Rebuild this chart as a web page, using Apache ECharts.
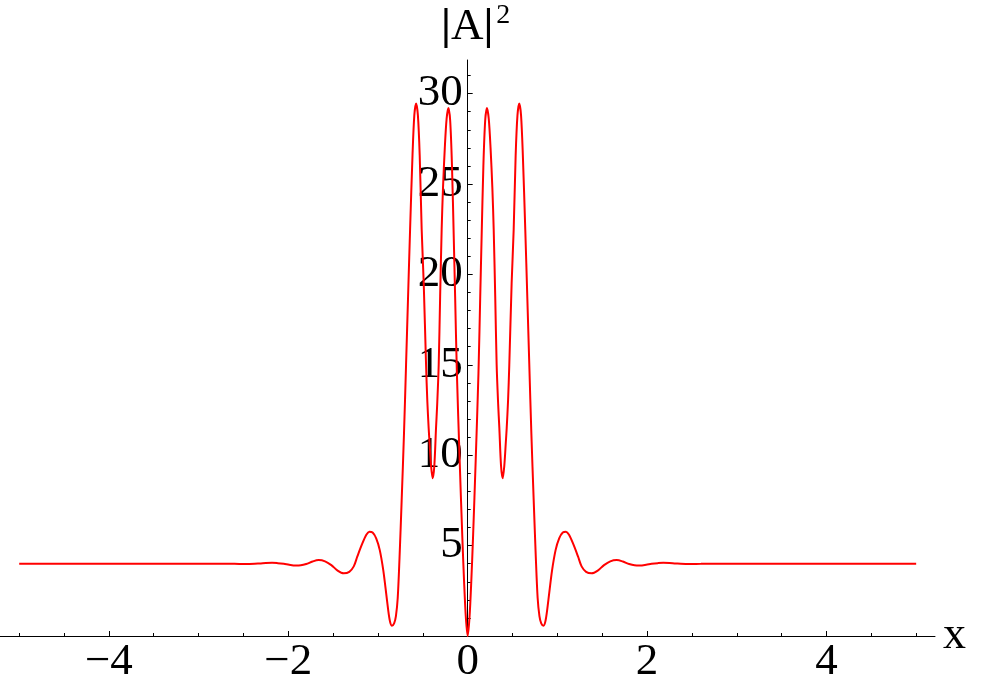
<!DOCTYPE html>
<html><head><meta charset="utf-8">
<script src="https://cdn.jsdelivr.net/npm/echarts@6/dist/echarts.min.js"></script>
<style>html,body{margin:0;padding:0;background:#fff}#c{width:1000px;height:692px}</style>
</head><body><div id="c"></div>
<script>
// curve samples (x, |A|^2)
const xValues = [
 -5.0,-4.5,-4.0,-3.6,-3.2,-2.8,-2.6,-2.45,-2.32,-2.25,-2.181,-2.12,-2.05,-1.99,-1.921,-1.86,-1.80,-1.73,-1.661,-1.59,-1.52,-1.45,-1.382,-1.32,-1.27,-1.23,-1.18,-1.13,-1.096,-1.06,-1.02,-0.98,-0.94,-0.90,-0.87,-0.845,-0.82,-0.80,-0.78,-0.76,-0.736,-0.71,-0.687,-0.665,-0.642,-0.615,-0.595,-0.575,-0.555,-0.535,-0.513,-0.49,-0.464,-0.45,-0.435,-0.425,-0.408,-0.39,-0.372,-0.353,-0.34,-0.323,-0.307,-0.29,-0.275,-0.255,-0.235,-0.215,-0.195,-0.175,-0.155,-0.14,-0.12,-0.09,-0.06,-0.04,-0.02,
 0,
 0.02,0.04,0.06,0.09,0.12,0.14,0.155,0.175,0.195,0.215,0.235,0.255,0.275,0.29,0.307,0.323,0.34,0.353,0.372,0.39,0.408,0.425,0.435,0.45,0.464,0.49,0.513,0.535,0.555,0.575,0.595,0.615,0.642,0.665,0.687,0.71,0.736,0.76,0.78,0.80,0.82,0.845,0.87,0.90,0.94,0.98,1.02,1.06,1.096,1.13,1.18,1.23,1.27,1.32,1.382,1.45,1.52,1.59,1.661,1.73,1.80,1.86,1.921,1.99,2.05,2.12,2.181,2.25,2.32,2.45,2.6,2.8,3.2,3.6,4.0,4.5,5.0
];
const yValues = [
 4.0,4.0,4.0,4.0,4.0,4.0,3.99,3.98,4.01,4.04,4.05,4.03,3.99,3.94,3.9,3.91,3.98,4.12,4.2,4.13,3.92,3.62,3.47,3.55,3.85,4.4,5.05,5.6,5.77,5.72,5.4,4.75,3.6,2.0,0.9,0.57,0.7,1.1,2.1,4.3,7.5,11.2,15.0,18.7,22.5,26.6,28.8,29.46,28.8,26.6,22.5,19.5,15.0,13.0,11.5,10.7,9.4,8.72,9.4,11.5,12.8,15.0,18.8,22.5,24.8,27.0,28.6,29.2,28.5,26.0,22.0,18.8,14.5,9.8,5.5,3.0,1.0,
 0.0,
 1.0,3.0,5.5,9.8,14.5,18.8,22.0,26.0,28.5,29.2,28.6,27.0,24.8,22.5,18.8,15.0,12.8,11.5,9.4,8.72,9.4,10.7,11.5,13.0,15.0,19.5,22.5,26.6,28.8,29.46,28.8,26.6,22.5,18.7,15.0,11.2,7.5,4.3,2.1,1.1,0.7,0.57,0.9,2.0,3.6,4.75,5.4,5.72,5.77,5.6,5.05,4.4,3.85,3.55,3.47,3.62,3.92,4.13,4.2,4.12,3.98,3.91,3.9,3.94,3.99,4.03,4.05,4.04,4.01,3.98,3.99,4.0,4.0,4.0,4.0,4.0,4.0
];
const xMajorTicks = [-4, -2, 0, 2, 4];
const xMinorTicks = [-5,-4.5,-3.5,-3,-2.5,-1.5,-1,-0.5,0.5,1,1.5,2.5,3,3.5,4.5,5];
const yMajorTicks = [5, 10, 15, 20, 25, 30];
const yMinorTicks = [1,2,3,4,6,7,8,9,11,12,13,14,16,17,18,19,21,22,23,24,26,27,28,29,31];

const points = xValues.map((x, i) => [x, yValues[i]]);
const SERIF = '"Liberation Serif", "DejaVu Serif", serif';
const XMIN = -5.214, XMAX = 5.21, YMIN = 0, YMAX = 31.86;
const GRID_LEFT = 0, GRID_RIGHT = 65;
const lineCol = '#000';

const chart = echarts.init(document.getElementById('c'), null, {renderer: 'canvas'});
const fmt = v => (v < 0 ? '\u2212' + Math.abs(v) : String(v));
// place the vertical axis where x = 0 falls inside the grid
const gridWidth = 1000 - GRID_LEFT - GRID_RIGHT;
const yAxisOffset = -((0 - XMIN) / (XMAX - XMIN)) * gridWidth;

chart.setOption({
  animation: false,
  backgroundColor: '#fff',
  grid: {left: GRID_LEFT, right: GRID_RIGHT, top: 60, bottom: 56, containLabel: false, outerBoundsMode: 'none'},
  xAxis: [
    {
      type: 'value', min: XMIN, max: XMAX, position: 'bottom',
      name: 'x', nameLocation: 'end', nameGap: 8,
      nameTextStyle: {fontFamily: SERIF, fontSize: 46, color: '#000', verticalAlign: 'middle', padding: [0,0,10,0]},
      axisLine: {show: true, onZero: false, lineStyle: {color: lineCol, width: 1}},
      axisTick: {show: true, inside: true, length: 5, customValues: xMajorTicks, lineStyle: {color: lineCol}},
      axisLabel: {show: true, customValues: xMajorTicks, formatter: fmt, fontFamily: SERIF, fontSize: 45, color: '#000', margin: 4},
      splitLine: {show: false}
    },
    {
      type: 'value', min: XMIN, max: XMAX, position: 'bottom',
      axisLine: {show: false, onZero: false},
      axisTick: {show: true, inside: true, length: 3, customValues: xMinorTicks, lineStyle: {color: lineCol}},
      axisLabel: {show: false},
      splitLine: {show: false}
    }
  ],
  yAxis: [
    {
      type: 'value', min: YMIN, max: YMAX, position: 'left', offset: yAxisOffset,
      axisLine: {show: true, onZero: false, lineStyle: {color: lineCol, width: 1}},
      axisTick: {show: true, inside: true, length: 5, customValues: yMajorTicks, lineStyle: {color: lineCol}},
      axisLabel: {show: true, customValues: yMajorTicks, fontFamily: SERIF, fontSize: 45, color: '#000', margin: 5},
      splitLine: {show: false}
    },
    {
      type: 'value', min: YMIN, max: YMAX, position: 'left', offset: yAxisOffset,
      axisLine: {show: false, onZero: false},
      axisTick: {show: true, inside: true, length: 3, customValues: yMinorTicks, lineStyle: {color: lineCol}},
      axisLabel: {show: false},
      splitLine: {show: false}
    }
  ],
  graphic: [
    {
      type: 'text', left: 441, top: 2,
      style: {
        text: '{b||}{a|A}{b||}{s|2}',
        rich: {
          b: {fontFamily: SERIF, fontSize: 45, fontWeight: 'bold', fill: '#000', lineHeight: 50},
          a: {fontFamily: SERIF, fontSize: 45, fill: '#000', lineHeight: 50},
          s: {fontFamily: SERIF, fontSize: 28, fill: '#000', verticalAlign: 'top', lineHeight: 24, padding: [0,0,0,3]}
        }
      }
    }
  ],
  series: [{
    type: 'line', xAxisIndex: 0, yAxisIndex: 0,
    data: points, showSymbol: false, smooth: 0.3,
    lineStyle: {color: '#ff0000', width: 2},
    clip: true
  }]
});
</script>
</body></html>
